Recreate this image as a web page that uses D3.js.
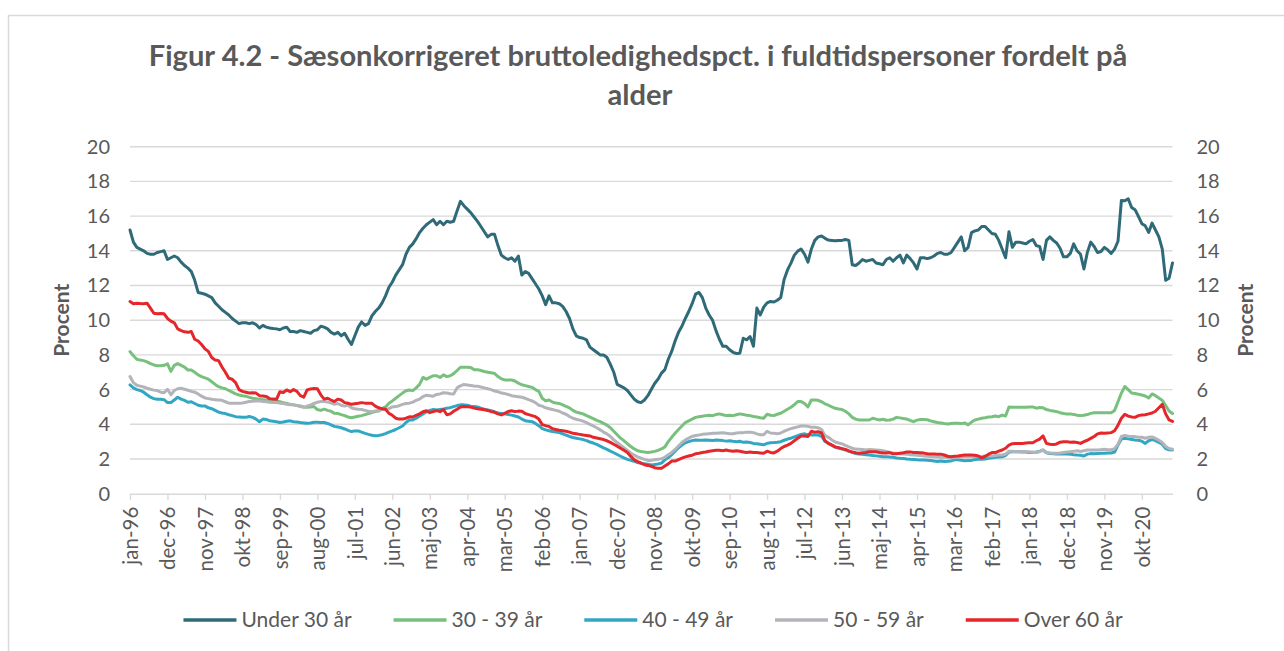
<!DOCTYPE html>
<html>
<head>
<meta charset="utf-8">
<script src="https://cdn.jsdelivr.net/npm/d3@7"></script>
<style>
  body { margin: 0; background: #fff; }
  svg text { font-family: Lato, "Open Sans", sans-serif; fill: #595959; }
</style>
</head>
<body>
<div id="chart"></div>
<script>
// monthly series, jan-96 .. jul-21
var monthNames = ["jan", "feb", "mar", "apr", "maj", "jun", "jul", "aug", "sep", "okt", "nov", "dec"];
var nMonths = 307;
var categories = d3.range(nMonths).map(function (i) {
    return monthNames[i % 12] + "-" + String((1996 + Math.floor(i / 12)) % 100).padStart(2, "0");
});

var tickLabels = ["jan-96", "dec-96", "nov-97", "okt-98", "sep-99", "aug-00", "jul-01", "jun-02", "maj-03", "apr-04",
    "mar-05", "feb-06", "jan-07", "dec-07", "nov-08", "okt-09", "sep-10", "aug-11", "jul-12", "jun-13",
    "maj-14", "apr-15", "mar-16", "feb-17", "jan-18", "dec-18", "nov-19", "okt-20"];
var yTicks = [0, 2, 4, 6, 8, 10, 12, 14, 16, 18, 20];

var under30 = [
    15.2, 14.5, 14.2, 14.1, 14.0, 13.85, 13.8, 13.8, 13.9, 13.95, 14.0, 13.5,
    13.6, 13.7, 13.6, 13.35, 13.15, 13.0, 12.8, 12.3, 11.6, 11.55, 11.5, 11.4,
    11.3, 11.0, 10.8, 10.6, 10.45, 10.3, 10.1, 9.95, 9.8, 9.85, 9.85, 9.8,
    9.85, 9.75, 9.55, 9.7, 9.6, 9.55, 9.52, 9.5, 9.45, 9.55, 9.6, 9.35, 9.35,
    9.3, 9.4, 9.35, 9.3, 9.25, 9.4, 9.45, 9.65, 9.6, 9.5, 9.3, 9.2,
    9.3, 9.1, 9.25, 8.9, 8.6, 9.1, 9.6, 9.9, 9.7, 9.8, 10.25, 10.5,
    10.7, 11.0, 11.4, 11.9, 12.2, 12.6, 12.9, 13.2, 13.8, 14.2, 14.4, 14.7,
    15.05, 15.3, 15.5, 15.65, 15.8, 15.5, 15.7, 15.5, 15.7, 15.65, 15.7, 16.3,
    16.85, 16.6, 16.4, 16.2, 15.95, 15.7, 15.4, 15.1, 14.8, 14.95, 14.95, 14.3,
    13.75, 13.6, 13.5, 13.6, 13.4, 13.7, 12.6, 12.8, 12.7, 12.4, 12.1, 11.8,
    11.4, 10.9, 11.4, 11.0, 11.0, 10.95, 10.8, 10.5, 10.1, 9.5, 9.1, 9.0, 8.96,
    8.87, 8.45, 8.3, 8.15, 8.0, 8.0, 7.85, 7.45, 7.0, 6.3, 6.2, 6.1,
    5.95, 5.7, 5.45, 5.3, 5.25, 5.4, 5.65, 6.0, 6.35, 6.6, 6.95, 7.15,
    7.75, 8.2, 8.8, 9.3, 9.65, 10.1, 10.5, 10.95, 11.5, 11.6, 11.3, 10.7,
    10.3, 10.0, 9.4, 8.9, 8.5, 8.5, 8.3, 8.15, 8.08, 8.1, 8.96, 8.87,
    9.06, 8.5, 10.7, 10.3, 10.75, 11.0, 11.08, 11.05, 11.15, 11.3, 12.35, 12.9,
    13.29, 13.75, 13.98, 14.1, 13.8, 13.35, 14.1, 14.6, 14.8, 14.85, 14.72, 14.62,
    14.6, 14.58, 14.6, 14.6, 14.65, 14.6, 13.2, 13.15, 13.3, 13.5, 13.4, 13.45, 13.5,
    13.3, 13.25, 13.2, 13.5, 13.6, 13.4, 13.6, 13.75, 13.3, 13.75, 13.55, 13.3,
    12.95, 13.6, 13.6, 13.55, 13.6, 13.7, 13.85, 13.9, 13.8, 13.8, 13.9, 14.2,
    14.5, 14.8, 14.0, 14.2, 15.05, 15.15, 15.2, 15.4, 15.4, 15.2, 15.0, 14.95,
    14.6, 14.1, 13.6, 15.1, 14.2, 14.5, 14.5, 14.45, 14.4, 14.55, 14.65, 14.3,
    14.25, 13.5, 14.6, 14.8, 14.6, 14.45, 14.15, 13.65, 13.65, 13.85, 14.4, 14.0,
    13.8, 12.95, 13.9, 14.5, 14.25, 13.9, 13.96, 14.2, 14.05,
    13.85, 14.1, 14.55, 16.9, 16.88, 17.0, 16.5, 16.37, 15.98, 15.56, 15.44, 15.06,
    15.6, 15.2, 14.8, 14.1, 12.3, 12.42, 13.3
];

var age30to39 = [
    8.19, 7.95, 7.75, 7.7, 7.67, 7.6, 7.5, 7.42, 7.38, 7.37, 7.4, 7.48,
    7.05, 7.4, 7.5, 7.4, 7.3, 7.13, 7.13, 7.0, 6.85, 6.75, 6.68, 6.6,
    6.45, 6.3, 6.17, 6.1, 6.05, 5.95, 5.85, 5.75, 5.69, 5.65, 5.62, 5.55,
    5.5, 5.47, 5.44, 5.42, 5.4, 5.38, 5.37, 5.35, 5.3, 5.25, 5.2, 5.15, 5.12,
    5.08, 5.06, 5.0, 4.98, 5.0, 5.02, 4.85, 4.8, 4.87, 4.8, 4.75, 4.63,
    4.62, 4.56, 4.5, 4.42, 4.38, 4.42, 4.46, 4.5, 4.56, 4.62, 4.68, 4.73,
    4.77, 4.9, 5.0, 5.22, 5.35, 5.5, 5.65, 5.8, 5.93, 5.98, 5.94, 6.1,
    6.3, 6.7, 6.6, 6.7, 6.8, 6.8, 6.7, 6.85, 6.75, 6.8, 6.92, 7.1,
    7.29, 7.29, 7.29, 7.27, 7.15, 7.15, 7.1, 7.04, 7.0, 6.97, 6.93, 6.75,
    6.62, 6.56, 6.56, 6.55, 6.5, 6.37, 6.28, 6.23, 6.18, 6.13, 6.0, 5.9,
    5.5, 5.35, 5.4, 5.28, 5.23, 5.2, 5.12, 5.03, 4.95, 4.8, 4.7, 4.65, 4.6,
    4.5, 4.42, 4.33, 4.23, 4.15, 4.05, 3.95, 3.8, 3.6, 3.4, 3.2, 3.05,
    2.88, 2.72, 2.58, 2.48, 2.43, 2.4, 2.38, 2.4, 2.44, 2.5, 2.58, 2.7,
    3.0, 3.25, 3.48, 3.7, 3.9, 4.1, 4.2, 4.3, 4.4, 4.44, 4.47, 4.5,
    4.52, 4.5, 4.56, 4.6, 4.55, 4.5, 4.52, 4.5, 4.55, 4.6, 4.57, 4.52,
    4.5, 4.45, 4.42, 4.38, 4.35, 4.58, 4.52, 4.5, 4.58, 4.64, 4.75, 4.87,
    4.98, 5.13, 5.31, 5.31, 5.2, 5.0, 5.4, 5.4, 5.38, 5.3, 5.18, 5.1,
    5.0, 4.92, 4.88, 4.85, 4.75, 4.6, 4.4, 4.3, 4.25, 4.25, 4.25, 4.25, 4.35,
    4.3, 4.25, 4.29, 4.23, 4.25, 4.3, 4.4, 4.37, 4.33, 4.3, 4.22, 4.15,
    4.24, 4.28, 4.28, 4.26, 4.2, 4.15, 4.1, 4.07, 4.04, 4.02, 4.05, 4.06,
    4.06, 4.04, 4.08, 3.97, 4.13, 4.25, 4.3, 4.35, 4.38, 4.42, 4.44, 4.48,
    4.44, 4.53, 4.48, 5.0, 4.98, 4.98, 4.98, 4.98, 4.98, 5.0, 5.0, 4.93,
    4.97, 4.95, 4.85, 4.8, 4.77, 4.73, 4.67, 4.62, 4.6, 4.6, 4.57, 4.52,
    4.5, 4.52, 4.56, 4.63, 4.66, 4.67, 4.67, 4.67, 4.67,
    4.67, 4.8, 5.3, 5.8, 6.18, 6.0, 5.8, 5.77, 5.73, 5.69, 5.63, 5.52,
    5.75, 5.65, 5.52, 5.38, 5.08, 4.77, 4.62
];

var age40to49 = [
    6.27, 6.1, 6.0, 5.95, 5.85, 5.7, 5.56, 5.48, 5.44, 5.44, 5.42, 5.25,
    5.25, 5.4, 5.56, 5.45, 5.38, 5.27, 5.3, 5.2, 5.1, 5.06, 5.06, 4.95,
    4.9, 4.8, 4.7, 4.65, 4.62, 4.55, 4.5, 4.44, 4.42, 4.4, 4.4, 4.45,
    4.4, 4.3, 4.15, 4.3, 4.28, 4.2, 4.18, 4.15, 4.1, 4.13, 4.18, 4.2, 4.15,
    4.13, 4.1, 4.08, 4.06, 4.08, 4.12, 4.12, 4.1, 4.1, 4.05, 3.97, 3.88,
    3.85, 3.8, 3.73, 3.65, 3.58, 3.62, 3.62, 3.55, 3.48, 3.42, 3.37, 3.34,
    3.36, 3.4, 3.46, 3.55, 3.62, 3.7, 3.8, 3.9, 4.1, 4.25, 4.25, 4.35,
    4.48, 4.6, 4.72, 4.8, 4.85, 4.82, 4.85, 4.88, 4.92, 4.96, 5.02, 5.08,
    5.12, 5.12, 5.1, 5.04, 5.03, 5.0, 4.93, 4.87, 4.83, 4.78, 4.72, 4.65,
    4.63, 4.6, 4.57, 4.53, 4.48, 4.42, 4.3, 4.21, 4.18, 4.15, 4.05, 3.92,
    3.75, 3.68, 3.63, 3.58, 3.55, 3.52, 3.45, 3.38, 3.3, 3.24, 3.2, 3.16, 3.12,
    3.06, 2.98, 2.92, 2.84, 2.74, 2.64, 2.55, 2.45, 2.36, 2.26, 2.16, 2.06,
    1.98, 1.92, 1.86, 1.8, 1.76, 1.72, 1.7, 1.66, 1.68, 1.71, 1.76, 1.95,
    2.08, 2.25, 2.45, 2.65, 2.8, 2.93, 3.0, 3.06, 3.1, 3.08, 3.08, 3.1,
    3.08, 3.06, 3.1, 3.08, 3.06, 3.03, 3.05, 3.02, 3.0, 3.02, 2.96, 2.98,
    2.95, 2.9, 2.88, 2.85, 2.82, 2.9, 2.94, 2.95, 2.97, 3.0, 3.08, 3.15,
    3.2, 3.28, 3.35, 3.42, 3.45, 3.4, 3.38, 3.38, 3.38, 3.3, 3.02, 2.9,
    2.8, 2.68, 2.63, 2.58, 2.52, 2.44, 2.38, 2.32, 2.29, 2.27, 2.24, 2.23, 2.2,
    2.18, 2.16, 2.13, 2.13, 2.12, 2.1, 2.06, 2.04, 2.03, 2.0, 1.98, 1.97,
    1.95, 1.94, 1.94, 1.93, 1.91, 1.88, 1.86, 1.89, 1.86, 1.87, 1.89, 1.95,
    1.96, 1.93, 1.9, 1.92, 1.92, 1.97, 1.98, 1.98, 2.0, 2.04, 2.07, 2.1,
    2.12, 2.13, 2.2, 2.4, 2.42, 2.42, 2.42, 2.41, 2.4, 2.38, 2.39, 2.41,
    2.44, 2.52, 2.36, 2.32, 2.3, 2.29, 2.29, 2.29, 2.29, 2.28, 2.25, 2.23,
    2.22, 2.17, 2.28, 2.31, 2.3, 2.32, 2.33, 2.33, 2.35,
    2.35, 2.4, 2.8, 3.15, 3.19, 3.16, 3.13, 3.1, 3.08, 3.03, 2.9, 3.05,
    3.12, 3.06, 2.95, 2.85, 2.6, 2.53, 2.52
];

var age50to59 = [
    6.75, 6.4, 6.25, 6.2, 6.15, 6.08, 6.02, 5.97, 5.94, 5.85, 5.82, 6.02,
    5.7, 5.95, 6.05, 6.08, 6.02, 5.96, 5.9, 5.85, 5.75, 5.62, 5.52, 5.48,
    5.44, 5.42, 5.4, 5.38, 5.3, 5.22, 5.21, 5.21, 5.22, 5.23, 5.27, 5.31,
    5.33, 5.36, 5.35, 5.32, 5.3, 5.27, 5.26, 5.25, 5.22, 5.2, 5.15, 5.12, 5.12,
    5.08, 5.03, 4.98, 5.05, 5.12, 5.2, 5.27, 5.31, 5.31, 5.28, 5.23, 5.15,
    5.2, 5.1, 5.05, 5.1, 4.95, 4.9, 4.87, 4.85, 4.8, 4.75, 4.73, 4.77,
    4.8, 4.85, 4.87, 4.9, 5.0, 5.02, 5.07, 5.15, 5.2, 5.22, 5.28, 5.38,
    5.45, 5.6, 5.68, 5.65, 5.62, 5.72, 5.75, 5.82, 5.8, 5.76, 5.75, 6.1,
    6.22, 6.3, 6.27, 6.24, 6.21, 6.2, 6.15, 6.1, 6.05, 6.0, 5.92, 5.88,
    5.8, 5.77, 5.72, 5.65, 5.62, 5.59, 5.56, 5.5, 5.42, 5.35, 5.25, 5.1,
    5.05, 4.95, 4.9, 4.85, 4.8, 4.75, 4.65, 4.58, 4.45, 4.35, 4.29, 4.24, 4.18,
    4.1, 4.0, 3.9, 3.8, 3.68, 3.55, 3.45, 3.3, 3.1, 2.95, 2.8, 2.65,
    2.5, 2.35, 2.22, 2.12, 2.05, 1.98, 1.92, 1.92, 1.96, 1.98, 2.02, 2.1,
    2.25, 2.38, 2.55, 2.75, 2.95, 3.1, 3.2, 3.3, 3.35, 3.38, 3.42, 3.44,
    3.46, 3.48, 3.48, 3.5, 3.51, 3.48, 3.45, 3.46, 3.5, 3.52, 3.52, 3.54,
    3.54, 3.52, 3.45, 3.4, 3.4, 3.6, 3.5, 3.48, 3.45, 3.5, 3.6, 3.68,
    3.75, 3.8, 3.85, 3.9, 3.9, 3.88, 3.83, 3.83, 3.8, 3.7, 3.35, 3.25,
    3.1, 2.98, 2.92, 2.87, 2.78, 2.7, 2.62, 2.57, 2.56, 2.55, 2.52, 2.55, 2.54,
    2.52, 2.5, 2.48, 2.43, 2.38, 2.35, 2.33, 2.3, 2.29, 2.28, 2.25, 2.23,
    2.22, 2.2, 2.17, 2.16, 2.14, 2.13, 2.12, 2.1, 2.1, 2.08, 2.05, 2.08,
    2.1, 2.12, 2.13, 2.15, 2.13, 2.13, 2.14, 2.15, 2.17, 2.17, 2.17, 2.2,
    2.23, 2.23, 2.28, 2.45, 2.45, 2.42, 2.42, 2.42, 2.42, 2.42, 2.39, 2.38,
    2.42, 2.52, 2.37, 2.35, 2.33, 2.33, 2.34, 2.37, 2.4, 2.42, 2.44, 2.48,
    2.43, 2.48, 2.52, 2.52, 2.52, 2.52, 2.54, 2.56, 2.54,
    2.53, 2.6, 2.85, 3.3, 3.36, 3.31, 3.29, 3.29, 3.26, 3.25, 3.2, 3.25,
    3.27, 3.19, 3.08, 2.95, 2.72, 2.6, 2.56
];

var over60 = [
    11.08, 10.95, 10.98, 10.96, 10.95, 10.98, 10.7, 10.4, 10.37, 10.38, 10.37, 10.1,
    9.95, 9.85, 9.5, 9.4, 9.33, 9.3, 9.35, 8.9, 8.8, 8.6, 8.35, 8.2,
    7.85, 7.7, 7.67, 7.3, 7.0, 6.65, 6.6, 6.4, 6.0, 5.9, 5.85, 5.8,
    5.82, 5.8, 5.65, 5.63, 5.6, 5.48, 5.46, 5.44, 5.88, 5.83, 5.98, 5.88, 6.0,
    5.9, 5.65, 5.56, 5.98, 6.04, 6.06, 6.05, 5.7, 5.45, 5.5, 5.4, 5.31,
    5.45, 5.4, 5.25, 5.21, 5.15, 5.18, 5.21, 5.25, 5.22, 5.21, 5.21, 5.05,
    4.95, 4.9, 4.87, 4.63, 4.52, 4.35, 4.3, 4.3, 4.35, 4.43, 4.42, 4.52,
    4.6, 4.72, 4.78, 4.67, 4.73, 4.79, 4.73, 4.85, 4.55, 4.6, 4.75, 4.87,
    5.0, 5.02, 5.01, 4.99, 4.94, 4.9, 4.87, 4.84, 4.8, 4.73, 4.69, 4.6,
    4.54, 4.63, 4.74, 4.78, 4.73, 4.76, 4.75, 4.62, 4.56, 4.5, 4.44, 4.3,
    3.98, 3.92, 3.88, 3.75, 3.7, 3.66, 3.63, 3.6, 3.55, 3.48, 3.45, 3.42, 3.38,
    3.36, 3.33, 3.25, 3.21, 3.17, 3.12, 3.05, 2.96, 2.85, 2.74, 2.62, 2.5,
    2.37, 2.15, 1.95, 1.85, 1.76, 1.67, 1.63, 1.58, 1.5, 1.46, 1.46, 1.6,
    1.72, 1.88, 1.88, 1.97, 2.05, 2.12, 2.17, 2.22, 2.3, 2.33, 2.37, 2.4,
    2.45, 2.48, 2.5, 2.5, 2.48, 2.52, 2.47, 2.45, 2.48, 2.45, 2.4, 2.38,
    2.4, 2.38, 2.37, 2.35, 2.33, 2.45, 2.38, 2.35, 2.45, 2.6, 2.72, 2.8,
    2.9, 3.05, 3.2, 3.33, 3.33, 3.3, 3.6, 3.54, 3.57, 3.5, 3.05, 2.9,
    2.8, 2.7, 2.65, 2.6, 2.55, 2.47, 2.4, 2.36, 2.33, 2.36, 2.38, 2.42, 2.42,
    2.42, 2.38, 2.35, 2.34, 2.37, 2.3, 2.3, 2.33, 2.36, 2.4, 2.41, 2.38,
    2.37, 2.36, 2.34, 2.3, 2.29, 2.29, 2.28, 2.28, 2.23, 2.16, 2.13, 2.16,
    2.17, 2.2, 2.23, 2.23, 2.23, 2.22, 2.17, 2.06, 2.15, 2.28, 2.37, 2.37,
    2.45, 2.52, 2.62, 2.8, 2.88, 2.9, 2.9, 2.9, 2.92, 2.94, 2.94, 3.05,
    3.15, 3.33, 2.9, 2.85, 2.83, 2.87, 2.97, 3.0, 3.0, 2.96, 2.98, 2.95,
    2.9, 3.0, 3.08, 3.19, 3.3, 3.45, 3.5, 3.48, 3.5,
    3.52, 3.63, 3.95, 4.35, 4.58, 4.47, 4.42, 4.4, 4.5, 4.54, 4.55, 4.6,
    4.65, 4.75, 4.95, 5.15, 4.6, 4.25, 4.17
];

var seriesNames = ["Under 30 år", "30 - 39 år", "40 - 49 år", "50 - 59 år", "Over 60 år"];
var seriesColors = ["#2f6a78", "#78c07d", "#31a7c4", "#b2b4b9", "#e5262a"];
var seriesValues = [under30, age30to39, age40to49, age50to59, over60];

var title1 = "Figur 4.2 - Sæsonkorrigeret bruttoledighedspct. i fuldtidspersoner fordelt på";
var title2 = "alder";

var W = 1284, H = 651;
var svg = d3.select("#chart").append("svg")
    .attr("width", W)
    .attr("height", H);

svg.append("rect").attr("width", W).attr("height", H).attr("fill", "#fff");

// chart area border (runs off the right/bottom of the shot)
svg.append("rect")
    .attr("x", 8.5).attr("y", 15.5)
    .attr("width", W + 20).attr("height", H + 20)
    .attr("fill", "none")
    .attr("stroke", "#d9d9d9")
    .attr("stroke-width", 1.5);

var plotL = 130, plotR = 1172.5, plotT = 146.7, plotB = 493.7;

var x = d3.scalePoint().domain(categories).range([plotL, plotR]);
var y = d3.scaleLinear().domain([0, 20]).range([plotB, plotT]);

// title, squeezed to the reference width
var t1 = svg.append("text")
    .attr("x", 638).attr("y", 66)
    .attr("text-anchor", "middle")
    .style("font-weight", "bold")
    .style("font-size", "24px")
    .text(title1);
var len = t1.node().getComputedTextLength();
var titleSize = 24 * 979 / len;
t1.style("font-size", titleSize + "px");
svg.append("text")
    .attr("x", 640).attr("y", 105)
    .attr("text-anchor", "middle")
    .style("font-weight", "bold")
    .style("font-size", titleSize + "px")
    .text(title2);

// gridlines
svg.append("g").selectAll("line")
    .data(yTicks.filter(function (d) { return d > 0; }))
    .enter().append("line")
    .attr("x1", plotL).attr("x2", plotR)
    .attr("y1", function (d) { return y(d); })
    .attr("y2", function (d) { return y(d); })
    .attr("stroke", "#d9d9d9")
    .attr("stroke-width", 1.4);

// y labels, both sides
var yl = d3.axisLeft(y).tickValues(yTicks).tickSize(0).tickPadding(20);
var gl = svg.append("g").attr("transform", "translate(" + plotL + ",0)").call(yl);
gl.select(".domain").remove();
gl.selectAll("text").style("font-size", "20px").attr("fill", "#595959");

var yr = d3.axisRight(y).tickValues(yTicks).tickSize(0).tickPadding(24);
var gr = svg.append("g").attr("transform", "translate(" + plotR + ",0)").call(yr);
gr.select(".domain").remove();
gr.selectAll("text").style("font-size", "20px").attr("fill", "#595959");

// x axis
var xa = d3.axisBottom(x).tickValues(tickLabels).tickSize(6).tickSizeOuter(0);
var gx = svg.append("g").attr("transform", "translate(0," + plotB + ")").call(xa);
gx.select(".domain").attr("stroke", "#d9d9d9").attr("stroke-width", 1.4);
gx.selectAll(".tick line").attr("stroke", "#d9d9d9").attr("stroke-width", 1.4);
gx.selectAll(".tick text")
    .style("font-size", "20.5px")
    .attr("fill", "#595959")
    .attr("text-anchor", "end")
    .attr("y", 0).attr("x", -13)
    .attr("dy", "0.35em")
    .attr("transform", "rotate(-90)");

// axis titles
[62, 1246].forEach(function (px) {
    svg.append("text")
        .attr("transform", "translate(" + px + "," + ((plotT + plotB) / 2) + ") rotate(-90)")
        .attr("text-anchor", "middle")
        .attr("dy", "0.35em")
        .style("font-weight", "bold")
        .style("font-size", "21px")
        .text("Procent");
});

// lines
var line = d3.line()
    .x(function (d, i) { return x(categories[i]); })
    .y(function (d) { return y(d); });

svg.append("g").selectAll("path")
    .data(seriesValues)
    .enter().append("path")
    .attr("d", line)
    .attr("fill", "none")
    .attr("stroke", function (d, i) { return seriesColors[i]; })
    .attr("stroke-width", 3)
    .attr("stroke-linejoin", "round")
    .attr("stroke-linecap", "round");

// legend
var legend = svg.append("g");
var lx = 0;
seriesNames.forEach(function (name, i) {
    var g = legend.append("g").attr("transform", "translate(" + lx + ",0)");
    g.append("line")
        .attr("x1", 0).attr("x2", 53)
        .attr("y1", 620).attr("y2", 620)
        .attr("stroke", seriesColors[i])
        .attr("stroke-width", 3.5);
    var tx = g.append("text")
        .attr("x", 58).attr("y", 620)
        .attr("dy", "0.35em")
        .style("font-size", "21px")
        .text(name);
    lx += 58 + tx.node().getComputedTextLength() + 42;
});
var legW = lx - 42;
legend.attr("transform", "translate(" + (182 + (942 - legW) / 2) + ",0)");
</script>
</body>
</html>
